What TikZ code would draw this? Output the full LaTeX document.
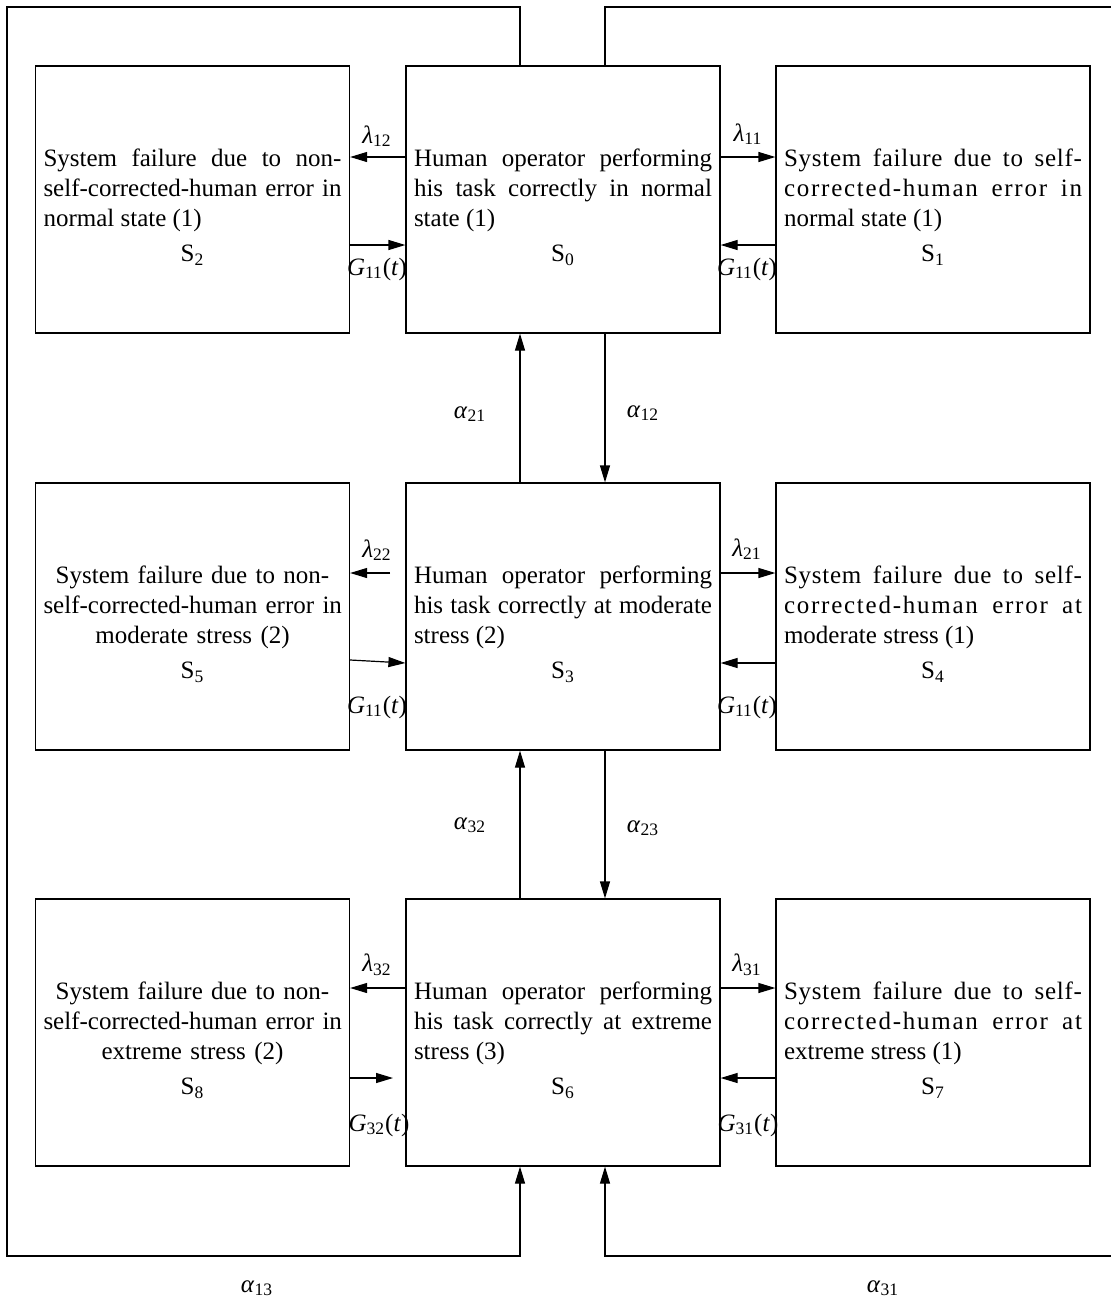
\documentclass[tikz,border=0pt]{standalone}
\usepackage{fontspec}
\setmainfont{Liberation Serif}
\usetikzlibrary{arrows.meta}

% state label under the box text
\newcommand{\stlabel}[1]{\par\vspace{2.5pt}\noindent
    \makebox[\hsize]{S\textsubscript{#1}}}
% rate labels in text italic
\newcommand{\rateit}[2]{\textit{#1}\textsubscript{#2}}
% letter spaced line
\newcommand{\widen}[2]{{\addfontfeature{LetterSpace=#1}#2}}

\begin{document}
\begin{tikzpicture}[
        x=0.5pt, y=-0.5pt,
        every node/.style={color=black},
        statebox/.style={draw, line width=0.6pt, minimum width=157pt,
            minimum height=133.5pt, text width=149pt, inner xsep=4pt,
            inner ysep=0pt, font=\fontsize{12.5}{15}\selectfont,
            execute at begin node={\rule{0pt}{16.5pt}}},
        justbox/.style={statebox, align=justify},
        centbox/.style={statebox, align=center},
        flow/.style={line width=0.6pt, -{Triangle[length=8.5pt,width=5pt]}},
        rate/.style={font=\fontsize{12.5}{15}\selectfont, inner sep=0pt},
    ]
    \useasboundingbox (0,0) rectangle (1110,1302);

    % states
    \node[justbox] (s2) at (192.5,199.5) {System failure due to non-\linebreak
        self-corrected-human error in\linebreak normal state (1)\stlabel{2}};
    \node[justbox] (s0) at (563,199.5) {Human operator performing\linebreak
        his task correctly in normal\linebreak state (1)\stlabel{0}};
    \node[justbox] (s1) at (933,199.5) {\widen{3}{System failure due to self-}\linebreak
        \widen{7}{corrected-human error in}\linebreak normal state (1)\stlabel{1}};

    \node[centbox] (s5) at (192.5,616.5) {\mbox{System failure due to non-}\\
        \mbox{self-corrected-human error in}\\ \mbox{moderate stress (2)}\stlabel{5}};
    \node[justbox] (s3) at (563,616.5) {Human operator performing\linebreak
        his task correctly at moderate\linebreak stress (2)\stlabel{3}};
    \node[justbox] (s4) at (933,616.5) {\widen{3}{System failure due to self-}\linebreak
        \widen{7}{corrected-human error at}\linebreak moderate stress (1)\stlabel{4}};

    \node[centbox] (s8) at (192.5,1032.5) {\mbox{System failure due to non-}\\
        \mbox{self-corrected-human error in}\\ \mbox{extreme stress (2)}\stlabel{8}};
    \node[justbox] (s6) at (563,1032.5) {Human operator performing\linebreak
        his task correctly at extreme\linebreak stress (3)\stlabel{6}};
    \node[justbox] (s7) at (933,1032.5) {\widen{3}{System failure due to self-}\linebreak
        \widen{7}{corrected-human error at}\linebreak extreme stress (1)\stlabel{7}};

    % free ends
    \coordinate (l22start) at (390,573);
    \coordinate (g32end) at (393,1078);

    % normal state row
    \draw[flow] (s0.west |- 0,157) -- (s2.east |- 0,157);
    \draw[flow] (s2.east |- 0,245) -- (s0.west |- 0,245);
    \draw[flow] (s0.east |- 0,157) -- (s1.west |- 0,157);
    \draw[flow] (s1.west |- 0,245) -- (s0.east |- 0,245);

    % moderate stress row
    \draw[flow] (l22start) -- (s5.east |- l22start);
    \draw[flow] (s5.east |- 0,660) -- (s3.west |- 0,663);
    \draw[flow] (s3.east |- 0,573) -- (s4.west |- 0,573);
    \draw[flow] (s4.west |- 0,663) -- (s3.east |- 0,663);

    % extreme stress row
    \draw[flow] (s6.west |- 0,988) -- (s8.east |- 0,988);
    \draw[flow] (s8.east |- g32end) -- (g32end);
    \draw[flow] (s6.east |- 0,988) -- (s7.west |- 0,988);
    \draw[flow] (s7.west |- 0,1078) -- (s6.east |- 0,1078);

    % between stress levels
    \draw[flow] (s3.north -| 520,0) -- (s0.south -| 520,0);
    \draw[flow] (s0.south -| 605,0) -- (s3.north -| 605,0);
    \draw[flow] (s6.north -| 520,0) -- (s3.south -| 520,0);
    \draw[flow] (s3.south -| 605,0) -- (s6.north -| 605,0);

    % outer loops
    \draw[flow] (s0.north -| 520,0) |- (7,7) |- (520,1256)
                -- (s6.south -| 520,0);
    \draw[flow] (s0.north -| 605,0) |- (1112,7) |- (605,1256)
                -- (s6.south -| 605,0);

    % rates
    \node[rate] (lam12) at (377,136) {\rateit{λ}{12}};
    \node[rate] (lam11) at (748,134) {\rateit{λ}{11}};
    \node[rate] (g11a) at (377,269) {\rateit{G}{11}(\textit{t})};
    \node[rate] (g11b) at (747,269) {\rateit{G}{11}(\textit{t})};

    \node[rate] (lam22) at (377,550) {\rateit{λ}{22}};
    \node[rate] (lam21) at (747,549) {\rateit{λ}{21}};
    \node[rate] (g11c) at (377,707) {\rateit{G}{11}(\textit{t})};
    \node[rate] (g11d) at (747,707) {\rateit{G}{11}(\textit{t})};

    \node[rate] (lam32) at (377,965) {\rateit{λ}{32}};
    \node[rate] (lam31) at (747,965) {\rateit{λ}{31}};
    \node[rate] (g32) at (379,1125) {\rateit{G}{32}(\textit{t})};
    \node[rate] (g31) at (748,1125) {\rateit{G}{31}(\textit{t})};

    \node[rate] (al21) at (470,414) {\rateit{α}{21}};
    \node[rate] (al12) at (643,413) {\rateit{α}{12}};
    \node[rate] (al32) at (470,825) {\rateit{α}{32}};
    \node[rate] (al23) at (643,828) {\rateit{α}{23}};
    \node[rate] (al13) at (257,1288) {\rateit{α}{13}};
    \node[rate] (al31) at (883,1288) {\rateit{α}{31}};
\end{tikzpicture}
\end{document}
